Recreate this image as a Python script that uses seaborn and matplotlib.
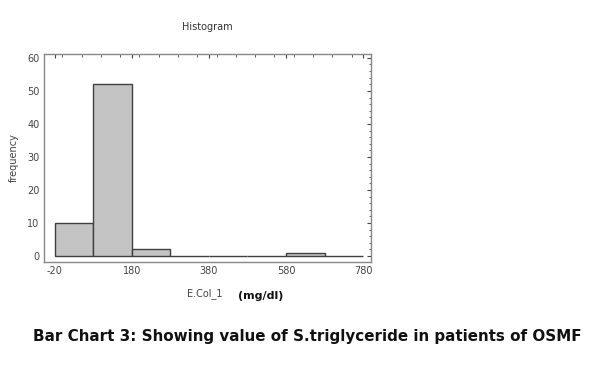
import numpy as np
import matplotlib
matplotlib.use("Agg")
import matplotlib.pyplot as plt
from matplotlib.ticker import MultipleLocator
import seaborn as sns

# histogram of S.triglyceride (mg/dl), bin edges and counts
bin_edges = [-20, 80, 180, 280, 380, 480, 580, 680, 780]
bin_counts = [10, 52, 2, 0, 0, 0, 1, 0]
x_ticks = [-20, 180, 380, 580, 780]
y_ticks = [0, 10, 20, 30, 40, 50, 60]

bin_mids = [(a + b) / 2 for a, b in zip(bin_edges[:-1], bin_edges[1:])]

sns.set_theme(style="white")
plt.rcParams['font.family'] = ['DejaVu Sans']
plt.rcParams['axes.unicode_minus'] = False

fig = plt.figure(figsize=(6, 3.77), dpi=100)
ax = fig.add_axes([0.073, 0.305, 0.545, 0.552])

sns.histplot(x=bin_mids, weights=bin_counts, bins=bin_edges, ax=ax,
             color="#c4c4c4", edgecolor="#404040", linewidth=1.0, alpha=1.0)

ax.set_xlim(-48, 800)
ax.set_ylim(-1.8, 61.2)
ax.set_xticks(x_ticks)
ax.set_yticks(y_ticks)
ax.xaxis.set_minor_locator(MultipleLocator(50))
ax.yaxis.set_minor_locator(MultipleLocator(2))
ax.tick_params(which="both", direction="in", top=True, right=True,
               color="#444444", labelsize=7, labelcolor="#444444", pad=3)
ax.tick_params(which="major", length=3, width=0.8)
ax.tick_params(which="minor", length=1.8, width=0.6)
for s in ax.spines.values():
    s.set_color("#888888")
    s.set_linewidth(1.0)

ax.set_title("Histogram", fontsize=7, color="#333333", pad=17)
ax.set_ylabel("frequency", fontsize=7, color="#444444", labelpad=6)
ax.set_xlabel("")

fig.text(0.312, 0.222, "E.Col_1", fontsize=7, color="#444444", ha="left", va="center")
fig.text(0.397, 0.215, "(mg/dl)", fontsize=8, fontweight="bold", color="#111111",
         ha="left", va="center")

fig.text(0.512, 0.108, "Bar Chart 3: Showing value of S.triglyceride in patients of OSMF",
         fontsize=10.9, fontweight="bold", ha="center", va="center", color="#111111")

fig.savefig("out.png", dpi=100)
